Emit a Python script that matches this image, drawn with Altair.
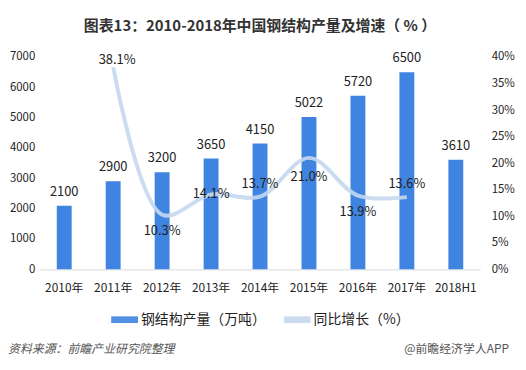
import altair as alt
import pandas as pd

categories = ["2010年", "2011年", "2012年", "2013年", "2014年", "2015年", "2016年", "2017年", "2018H1"]
output = [2100, 2900, 3200, 3650, 4150, 5022, 5720, 6500, 3610]
growth_years = ["2011年", "2012年", "2013年", "2014年", "2015年", "2016年", "2017年"]
growth = [38.1, 10.3, 14.1, 13.7, 21.0, 13.9, 13.6]
growth_side = ["top", "below", "center", "above", "below2", "below", "above"]

bar_name = "钢结构产量（万吨）"
line_name = "同比增长（%）"
FONT = "Noto Sans CJK SC"

bars_df = pd.DataFrame({"year": categories, "value": output, "series": bar_name})
line_df = pd.DataFrame({"year": growth_years, "rate": growth, "side": growth_side, "series": line_name})
line_df["label"] = line_df["rate"].map(lambda v: f"{v:.1f}%")

xenc = alt.X("year:N", sort=categories,
             scale=alt.Scale(paddingInner=0.69, paddingOuter=0.345),
             axis=alt.Axis(title=None, labelAngle=0, ticks=False, domainColor="#d9d9d9",
                           labelFontSize=12, labelColor="#222", labelPadding=13, labelFont=FONT))

color = alt.Color("series:N",
                  scale=alt.Scale(domain=[bar_name, line_name], range=["#3f84e0", "#c5d8f0"]),
                  legend=alt.Legend(title=None, orient="none", legendX=72, legendY=251,
                                    direction="horizontal", symbolType="M-1,-0.25H1V0.25H-1Z",
                                    symbolSize=729, symbolStrokeWidth=0, labelFontSize=14,
                                    labelFont=FONT, labelColor="#222", columnPadding=18,
                                    symbolOffset=0, labelOffset=3))

yleft = alt.Y("value:Q", scale=alt.Scale(domain=[0, 7000]),
              axis=alt.Axis(title=None, values=list(range(0, 7001, 1000)), grid=False, domain=False,
                            ticks=False, labelPadding=5, labelFontSize=11.5, labelColor="#222",
                            labelFont=FONT, labelOverlap=False, format="d"))

bars = alt.Chart(bars_df).mark_bar(size=15).encode(x=xenc, y=yleft, color=color)
bar_text = alt.Chart(bars_df).mark_text(dy=-14, fontSize=13, color="#222", font=FONT).encode(
    x=xenc, y=yleft, text=alt.Text("value:Q"))
left = alt.layer(bars, bar_text)

yright = alt.Y("rate:Q", scale=alt.Scale(domain=[0, 40]),
               axis=alt.Axis(title=None, orient="right", values=list(range(0, 41, 5)), grid=False,
                             domain=False, ticks=False, labelPadding=11, labelFontSize=11.5,
                             labelColor="#222", labelFont=FONT, labelOverlap=False,
                             labelExpr="datum.value + '%'"))

line = alt.Chart(line_df).mark_line(interpolate="catmull-rom", strokeWidth=4, opacity=0.9).encode(
    x=xenc, y=yright, color=color)

def lbl(side, dy, dx=0):
    return alt.Chart(line_df).transform_filter(alt.datum.side == side).mark_text(
        dy=dy, dx=dx, fontSize=13, color="#222", font=FONT).encode(
        x=xenc, y=yright, text="label:N")

right = alt.layer(line, lbl("top", -7, 4), lbl("above", -13), lbl("below", 17),
                  lbl("below2", 19), lbl("center", 0))

foot_l = alt.Chart(pd.DataFrame({"t": ["资料来源：前瞻产业研究院整理"]})).mark_text(
    align="left", fontSize=12, fontStyle="italic", color="#555", font=FONT).encode(
    x=alt.value(-32), y=alt.value(294), text="t:N")
foot_r = alt.Chart(pd.DataFrame({"t": ["@前瞻经济学人APP"]})).mark_text(
    align="right", fontSize=12, color="#555", font=FONT).encode(
    x=alt.value(473), y=alt.value(294), text="t:N")

chart = alt.layer(left, right, foot_l, foot_r).resolve_scale(y="independent").properties(
    width=444, height=214,
    padding={"left": 32, "top": 48, "right": 38, "bottom": 92},
    autosize=alt.AutoSizeParams(type="none"),
    title=alt.TitleParams("图表13：2010-2018年中国钢结构产量及增速（ % ）", fontSize=15,
                          fontWeight="bold", font=FONT, color="#333", anchor="middle", offset=17),
).configure_view(stroke=None)

chart.save("out.html", embed_options={"renderer": "svg", "actions": False})
